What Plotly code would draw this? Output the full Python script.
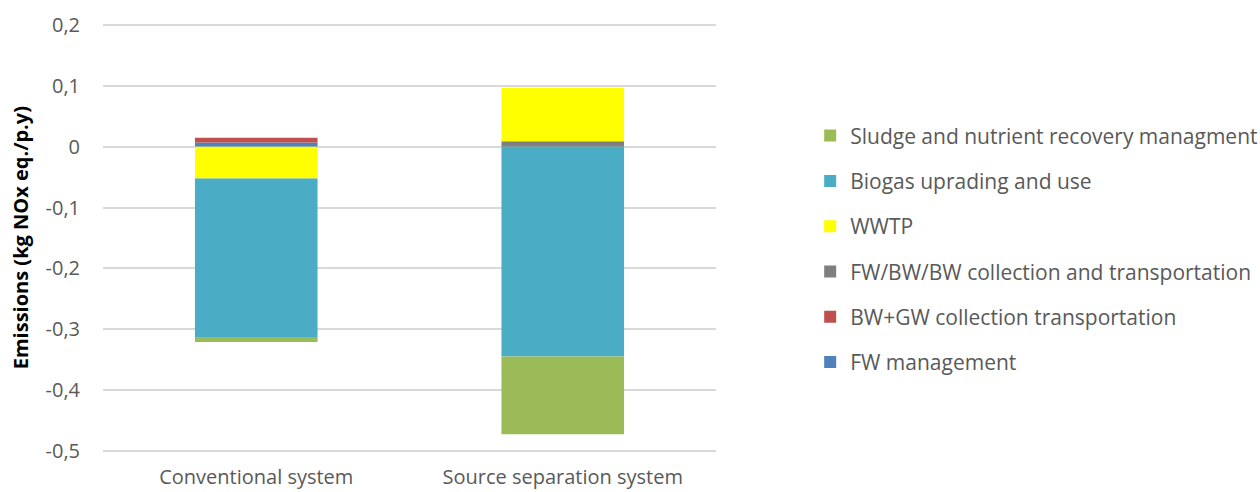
import plotly.graph_objects as go

systems = ["Conventional system", "Source separation system"]

# stack order (bottom to top), legend shows reversed
fw_management = [0.007, 0.0]
bwgw_transport = [0.008, 0.0]
fwbw_transport = [0.0, 0.009]
wwtp = [-0.052, 0.088]
biogas = [-0.261, -0.345]
sludge = [-0.008, -0.128]

y_ticks = [0.2, 0.1, 0, -0.1, -0.2, -0.3, -0.4, -0.5]
y_ticklabels = ["0,2", "0,1", "0", "-0,1", "-0,2", "-0,3", "-0,4", "-0,5"]

series = [
    ("FW management", fw_management, "#4F81BD"),
    ("BW+GW collection transportation", bwgw_transport, "#C0504D"),
    ("FW/BW/BW collection and transportation", fwbw_transport, "#7F7F7F"),
    ("WWTP", wwtp, "#FFFF00"),
    ("Biogas uprading and use", biogas, "#4BACC6"),
    ("Sludge and nutrient recovery managment", sludge, "#9BBB59"),
]

fig = go.Figure()
for i, (name, vals, color) in enumerate(series):
    fig.add_trace(go.Bar(
        x=systems, y=vals, name=name, legendgroup=name,
        legendrank=1000 - i,
        marker=dict(color=color, line=dict(width=0)),
    ))

fig.update_layout(
    barmode="relative",
    bargap=0.6,
    width=1260, height=492,
    margin=dict(l=103, r=544, t=24, b=40, autoexpand=False),
    plot_bgcolor="white",
    paper_bgcolor="white",
    font=dict(family="Open Sans", size=21, color="#595959"),
    legend=dict(
        traceorder="grouped",
        xref="container", yref="container",
        x=0.643, y=0.494, xanchor="left", yanchor="middle",
        tracegroupgap=15,
        maxheight=480,
        font=dict(size=21, color="#595959"),
    ),
    showlegend=True,
    annotations=[dict(
        text="<b>Emissions (kg NOx eq./p.y)</b>", textangle=-90,
        xref="paper", yref="paper", x=-0.135, y=0.5,
        xanchor="center", yanchor="middle", showarrow=False,
        font=dict(family="Open Sans", size=20, color="black"),
    )],
)
fig.update_yaxes(
    range=[-0.502, 0.202], tickvals=y_ticks, ticktext=y_ticklabels,
    gridcolor="#D9D9D9", gridwidth=1.5, zeroline=False,
    ticklabelstandoff=22,
    tickfont=dict(size=20, color="#595959"),
)
fig.update_xaxes(showgrid=False, showline=False, ticklabelstandoff=11,
                 tickfont=dict(size=20, color="#595959"))

fig.write_html("out.html", config={"displayModeBar": False},
               post_script="document.body.style.margin='0';")
